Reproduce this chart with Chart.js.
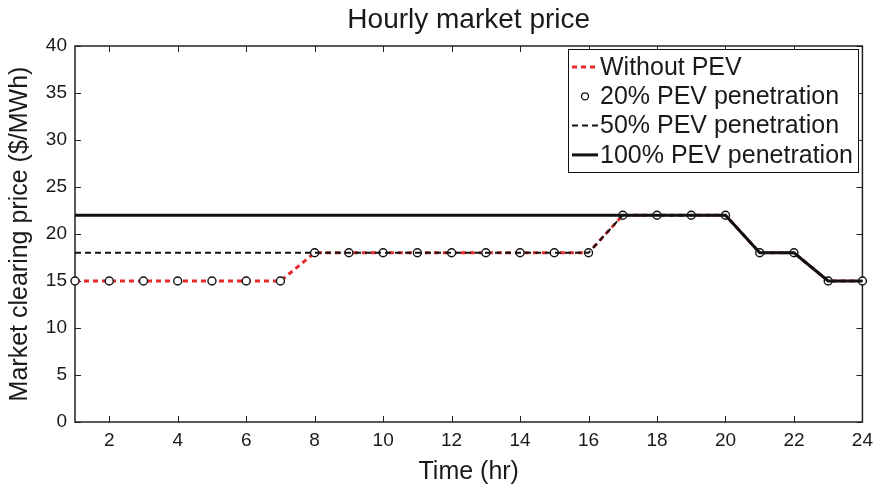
<!DOCTYPE html>
<html>
<head>
<meta charset="utf-8">
<script src="https://cdn.jsdelivr.net/npm/chart.js@4.4.1/dist/chart.umd.min.js"></script>
<style>
  html, body { margin: 0; padding: 0; background: #ffffff; }
  #wrap { width: 880px; height: 489px; }
</style>
</head>
<body>
<div id="wrap"><canvas id="c" width="880" height="489"></canvas></div>
<script>
// ---- data ----
const chartTitle = "Hourly market price";
const xTitle = "Time (hr)";
const yTitle = "Market clearing price ($/MWh)";
const hours = [1,2,3,4,5,6,7,8,9,10,11,12,13,14,15,16,17,18,19,20,21,22,23,24];
const withoutPEV = [15,15,15,15,15,15,15,18,18,18,18,18,18,18,18,18,22,22,22,22,18,18,15,15];
const pev20 = [15,15,15,15,15,15,15,18,18,18,18,18,18,18,18,18,22,22,22,22,18,18,15,15];
const pev50 = [18,18,18,18,18,18,18,18,18,18,18,18,18,18,18,18,22,22,22,22,18,18,15,15];
const pev100 = [22,22,22,22,22,22,22,22,22,22,22,22,22,22,22,22,22,22,22,22,18,18,15,15];
const seriesLabels = ["Without PEV", "20% PEV penetration", "50% PEV penetration", "100% PEV penetration"];
const xTickValues = [2,4,6,8,10,12,14,16,18,20,22,24];
const yTickValues = [0,5,10,15,20,25,30,35,40];

const TXT = '#1a1a1a';
const RED = '#e62a2a';
const FONT = "'Liberation Sans', Arial, Helvetica, sans-serif";

function pts(vals) { return hours.map((h, i) => ({ x: h, y: vals[i] })); }

const frameTicks = {
  id: 'frameTicks',
  beforeDatasetsDraw(chart) {
    const { ctx, chartArea: a, scales } = chart;
    ctx.save();
    ctx.strokeStyle = '#222';
    ctx.lineWidth = 1.5;
    ctx.strokeRect(a.left, a.top, a.right - a.left, a.bottom - a.top);
    ctx.lineWidth = 1;
    const L = 6;
    ctx.beginPath();
    xTickValues.forEach(v => {
      const px = Math.round(scales.x.getPixelForValue(v)) + 0.5;
      ctx.moveTo(px, a.bottom); ctx.lineTo(px, a.bottom - L);
      ctx.moveTo(px, a.top); ctx.lineTo(px, a.top + L);
    });
    yTickValues.forEach(v => {
      const py = Math.round(scales.y.getPixelForValue(v)) + 0.5;
      ctx.moveTo(a.left, py); ctx.lineTo(a.left + L, py);
      ctx.moveTo(a.right, py); ctx.lineTo(a.right - L, py);
    });
    ctx.stroke();
    ctx.restore();
  },
  afterDraw(chart) {
    const { ctx, chartArea: a } = chart;
    ctx.save();
    // title
    ctx.fillStyle = TXT;
    ctx.font = "28px " + FONT;
    ctx.textAlign = 'center';
    ctx.textBaseline = 'alphabetic';
    ctx.fillText(chartTitle, (a.left + a.right) / 2, 28);
    // legend
    const bx = 568, by = 49, bw = 290, bh = 123;
    ctx.fillStyle = '#ffffff';
    ctx.fillRect(bx, by, bw, bh);
    ctx.strokeStyle = '#111';
    ctx.lineWidth = 1;
    ctx.strokeRect(bx + 0.5, by + 0.5, bw, bh);
    ctx.font = "25px " + FONT;
    ctx.textAlign = 'left';
    ctx.textBaseline = 'middle';
    const ds = chart.data.datasets;
    const order = [0, 1, 2, 3];
    order.forEach((k, i) => {
      const d = ds[k];
      const cy = by + 18 + i * 29.3;
      if (d.showLine === false) {
        ctx.beginPath();
        ctx.setLineDash([]);
        ctx.arc(585, cy, 3.5, 0, Math.PI * 2);
        ctx.fillStyle = '#fff';
        ctx.fill();
        ctx.strokeStyle = '#111';
        ctx.lineWidth = 1.3;
        ctx.stroke();
      } else {
        ctx.beginPath();
        ctx.strokeStyle = d.borderColor;
        ctx.lineWidth = d.borderWidth;
        ctx.setLineDash(d.borderDash || []);
        ctx.moveTo(572, cy); ctx.lineTo(598, cy);
        ctx.stroke();
        ctx.setLineDash([]);
      }
      ctx.fillStyle = TXT;
      ctx.fillText(d.label, 600, cy + 1);
    });
    ctx.restore();
  }
};

new Chart(document.getElementById('c'), {
  type: 'line',
  data: {
    datasets: [
      { label: seriesLabels[0], data: pts(withoutPEV), borderColor: RED, borderWidth: 3, borderDash: [5, 4],
        pointRadius: 0, fill: false, tension: 0, order: 3, clip: false },
      { label: seriesLabels[1], data: pts(pev20), showLine: false, pointRadius: 4, pointStyle: 'circle',
        pointBackgroundColor: '#ffffff', pointBorderColor: '#111', pointBorderWidth: 1.4, borderColor: '#111', order: 2, clip: false },
      { label: seriesLabels[2], data: pts(pev50), borderColor: '#111', borderWidth: 2, borderDash: [6, 4],
        pointRadius: 0, fill: false, tension: 0, order: 1, clip: false },
      { label: seriesLabels[3], data: pts(pev100), borderColor: '#111', borderWidth: 3,
        pointRadius: 0, fill: false, tension: 0, order: 0, clip: false }
    ]
  },
  options: {
    responsive: false,
    animation: false,
    layout: { padding: { top: 46, right: 17, left: 0, bottom: 0 } },
    plugins: { legend: { display: false }, title: { display: false }, tooltip: { enabled: false } },
    scales: {
      x: {
        type: 'linear', min: 1, max: 24,
        grid: { display: false, drawTicks: false }, border: { display: false },
        afterBuildTicks: s => { s.ticks = xTickValues.map(v => ({ value: v })); },
        afterFit: s => { s.height = 67; },
        ticks: { color: TXT, font: { family: FONT, size: 19 }, padding: 7, autoSkip: false, maxRotation: 0 },
        title: { display: true, text: xTitle, color: TXT, font: { family: FONT, size: 25 }, padding: { top: 0, bottom: 2 } }
      },
      y: {
        type: 'linear', min: 0, max: 40,
        grid: { display: false, drawTicks: false }, border: { display: false },
        afterBuildTicks: s => { s.ticks = yTickValues.map(v => ({ value: v })); },
        afterFit: s => { s.width = 75; },
        ticks: { color: TXT, font: { family: FONT, size: 19 }, padding: 8 },
        title: { display: true, text: yTitle, color: TXT, font: { family: FONT, size: 25 }, padding: { top: 5, bottom: 0 } }
      }
    }
  },
  plugins: [frameTicks]
});
</script>
</body>
</html>
